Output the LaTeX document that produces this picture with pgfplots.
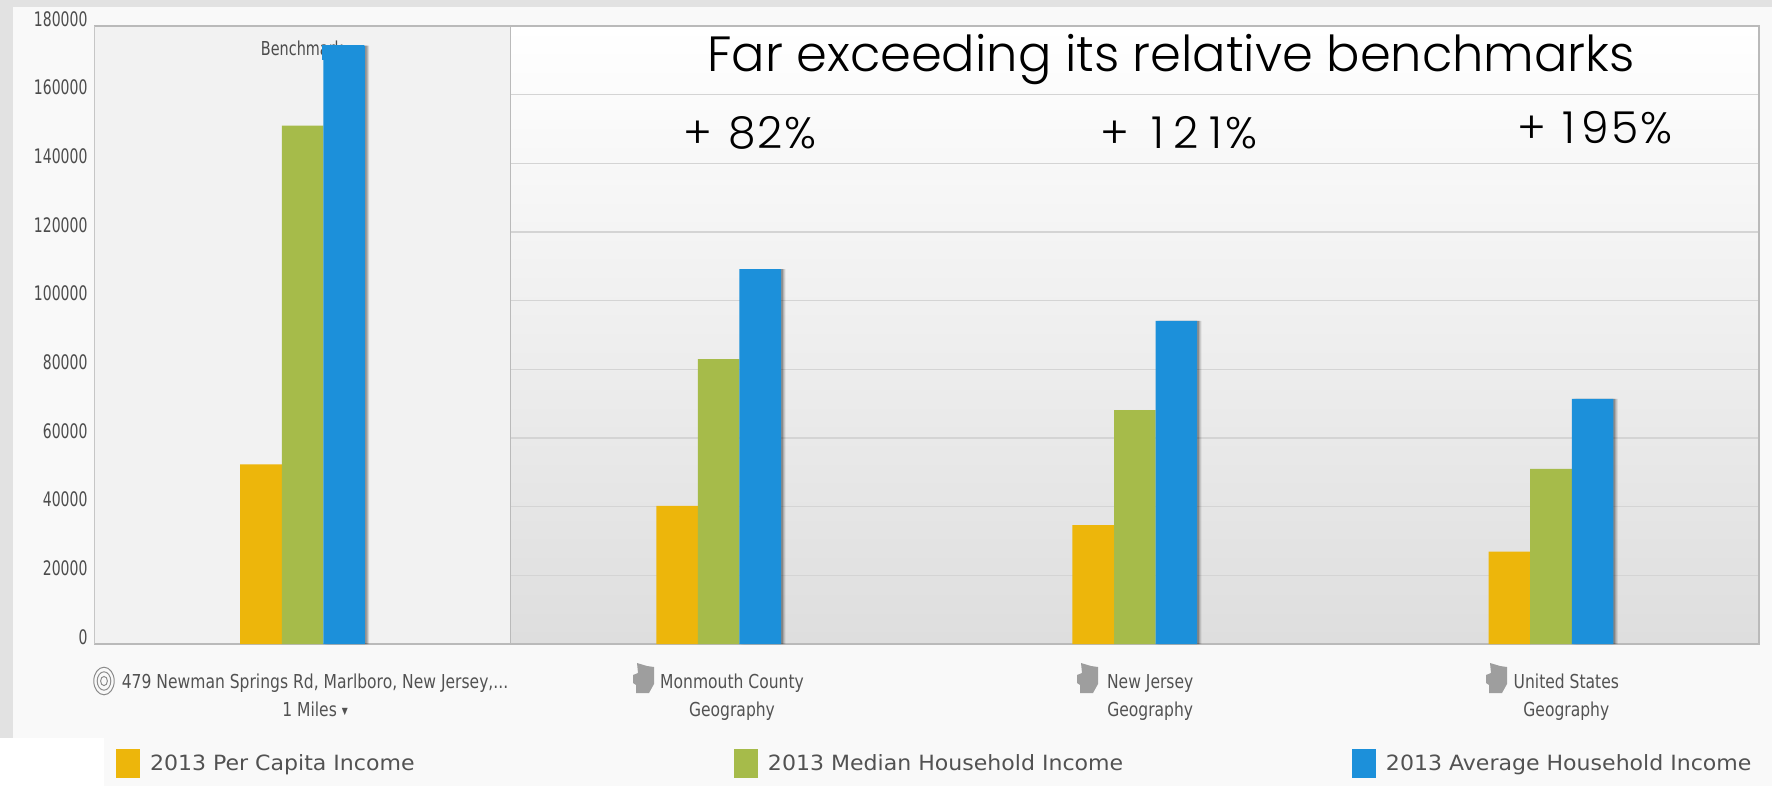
\documentclass[border=0pt]{standalone}
\usepackage{pgfplots}
\usepackage{pgfplotstable}
\usepackage{fontspec}
\pgfplotsset{compat=1.18}
\setmainfont{DejaVu Sans}
\newfontfamily\narrowfont[FakeStretch=0.70]{DejaVu Sans}
\newfontfamily\benchfont[FakeStretch=0.75]{DejaVu Sans}
\newfontfamily\catfont[FakeStretch=0.81]{DejaVu Sans}
\newfontfamily\legfont[FakeStretch=1.05]{DejaVu Sans}
\newfontfamily\titlefont{Poppins Light}
\definecolor{cyel}{HTML}{EDB60B}
\definecolor{cgrn}{HTML}{A6BB4A}
\definecolor{cblu}{HTML}{1C90DA}
\pgfplotstableread{
x yel grn blu
0 52300 151000 174300
1 40200 83000 109200
2 34600 68100 94100
3 26900 51000 71400
}\datatable
\begin{document}
\begin{tikzpicture}
\fill[color={rgb,255:red,226;green,226;blue,226}] (0,0) rectangle (886pt,-393pt);
\fill[color={rgb,255:red,249;green,249;blue,249}] (6.5pt,-3.5pt) rectangle (886pt,-393pt);
\fill[white] (0,-369pt) rectangle (52pt,-393pt);
\begin{axis}[
  at={(47.25pt,-322pt)}, anchor=south west,
  scale only axis, width=832.25pt, height=309pt,
  xmin=-0.5, xmax=3.5, ymin=0, ymax=180000,
  xtick={0.03,1.032,2.037,3.037},
  xticklabels={{479 Newman Springs Rd, Marlboro, New Jersey{,}{.}{.}{.}\\1 Miles \raisebox{0.25ex}{\scalebox{0.5}{▼}}},{Monmouth County\\Geography},{New Jersey\\Geography},{United States\\Geography}},
  x tick label style={font=\catfont\fontsize{9.6}{14}\selectfont,align=center,text=black!68,yshift=-11.5pt},
  ytick={0,20000,...,180000},
  scaled y ticks=false,
  y tick label style={font=\narrowfont\fontsize{10}{12}\selectfont,text=black!70,yshift=3.5pt,/pgf/number format/fixed,/pgf/number format/1000 sep={},/pgf/number format/assume math mode=true},
  major tick length=0pt,
  ymajorgrids, grid style={color=black!17,line width=0.8pt},
  axis line style={color=black!27,line width=0.7pt},
  axis background/.style={top color=white,bottom color=black!13},
  legend columns=3,
  legend style={at={(rel axis cs:0,0)},anchor=north west,xshift=10.75pt,yshift=-52.25pt,draw=none,fill=none,inner sep=0pt,outer sep=0pt,font=\legfont\fontsize{10.5}{12}\selectfont,text=black!68,/tikz/every even column/.append style={column sep=0pt},nodes={inner xsep=0pt,inner ysep=0pt}},
  legend cell align=left,
]
\addplot[fill=black!5,draw=black!27,line width=0.7pt,forget plot] coordinates {(-0.5,180000)(0.5,180000)} \closedcycle;
\addplot[ybar,bar width=0.1,bar shift=0.110,fill=black,fill opacity=0.12,draw=none,forget plot] table[x=x,y=blu] {\datatable};
\addplot[ybar,bar width=0.1,bar shift=0.107,fill=black,fill opacity=0.15,draw=none,forget plot] table[x=x,y=blu] {\datatable};
\addplot[ybar,bar width=0.1,bar shift=0.104,fill=black,fill opacity=0.2,draw=none,forget plot] table[x=x,y=blu] {\datatable};
\addplot[ybar,bar width=0.1,bar shift=-0.1,fill=cyel,draw=none,legend image code/.code={\fill[cyel] (0pt,-6.5pt) rectangle (12pt,8pt);}] table[x=x,y=yel] {\datatable};
\addplot[ybar,bar width=0.1,bar shift=0,fill=cgrn,draw=none,legend image code/.code={\fill[cgrn] (0pt,-6.5pt) rectangle (12pt,8pt);}] table[x=x,y=grn] {\datatable};
\addplot[ybar,bar width=0.1,bar shift=0.1,fill=cblu,draw=none,legend image code/.code={\fill[cblu] (0pt,-6.5pt) rectangle (12pt,8pt);}] table[x=x,y=blu] {\datatable};
\legend{\makebox[297pt][l]{\hspace{5pt}2013 Per Capita Income},\makebox[297pt][l]{\hspace{5pt}2013 Median Household Income},\makebox[190pt][l]{\hspace{5pt}2013 Average Household Income}}
\end{axis}
\begin{scope}[x=0.5pt,y=-0.5pt]
\node[text=black!70,font=\benchfont\fontsize{9.6}{12}\selectfont] at (302,48) {Benchmark};
\fill[cblu] (322,45) rectangle (364,60);
\node[font=\fontsize{24.75}{28}\selectfont] at (1171,60) {\titlefont Far exceeding its relative benchmarks};
\node[font=\fontsize{22}{26}\selectfont] at (750,133) {\titlefont +\hspace{2pt} 8\hspace{1pt}2\hspace{1pt}\%};
\node[font=\fontsize{22}{26}\selectfont] at (1179,133) {\titlefont +\hspace{5pt} 1\hspace{5pt}2\hspace{5pt}1\hspace{2pt}\%};
\node[font=\fontsize{22}{26}\selectfont] at (1595,128) {\titlefont +\hspace{2pt} 1\hspace{3pt}9\hspace{1pt}5\hspace{1pt}\%};
% ring icon
\foreach \r in {12,8,4} \draw[black!45,line width=0.5pt] (104,681) ellipse ({\r*0.85} and {\r*1.15});
% region icons
\foreach \cx in {644,1088,1497} {
  \fill[black!38] (\cx-7,663) -- (\cx+3,666) -- (\cx+10,667) -- (\cx+10,684) -- (\cx+5,693) -- (\cx-8,693) -- (\cx-8,685) -- (\cx-11,683) -- (\cx-11,675) -- (\cx-6,673) -- cycle;
}
\end{scope}
\end{tikzpicture}
\end{document}
